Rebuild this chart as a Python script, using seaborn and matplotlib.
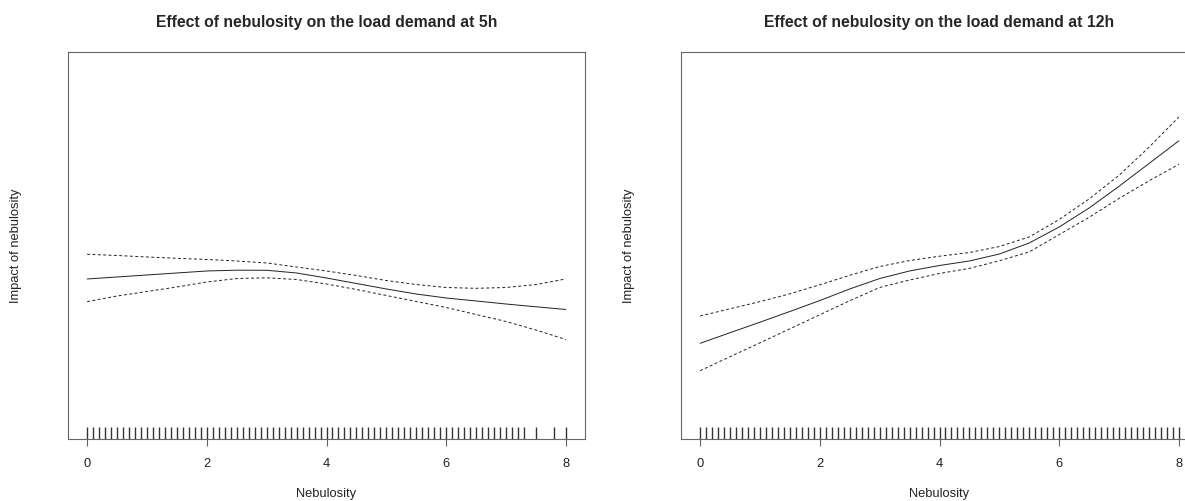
import numpy as np
import pandas as pd
import matplotlib
matplotlib.use("Agg")
import matplotlib.pyplot as plt
import seaborn as sns

# smooth effect of nebulosity (arbitrary centred units)
nebulosity = [0.0, 0.5, 1.0, 1.5, 2.0, 2.5, 3.0, 3.5, 4.0,
              4.5, 5.0, 5.5, 6.0, 6.5, 7.0, 7.5, 8.0]

fit_5h = [-0.519, -0.488, -0.457, -0.426, -0.395, -0.383, -0.384, -0.426, -0.504,
          -0.589, -0.674, -0.752, -0.814, -0.860, -0.907, -0.950, -0.992]
upper_5h = [-0.136, -0.155, -0.178, -0.198, -0.217, -0.240, -0.271, -0.333, -0.395,
            -0.465, -0.543, -0.605, -0.651, -0.664, -0.651, -0.605, -0.519]
lower_5h = [-0.871, -0.783, -0.713, -0.643, -0.566, -0.512, -0.501, -0.527, -0.597,
            -0.682, -0.775, -0.868, -0.961, -1.070, -1.178, -1.310, -1.457]

fit_12h = [-1.516, -1.352, -1.189, -1.023, -0.853, -0.674, -0.512, -0.395, -0.310,
           -0.240, -0.132, 0.039, 0.287, 0.581, 0.918, 1.270, 1.623]
upper_12h = [-1.093, -0.981, -0.870, -0.749, -0.609, -0.462, -0.326, -0.233, -0.166,
             -0.109, -0.016, 0.133, 0.403, 0.721, 1.088, 1.522, 1.992]
lower_12h = [-1.941, -1.724, -1.509, -1.291, -1.074, -0.856, -0.651, -0.535, -0.433,
             -0.355, -0.237, -0.099, 0.169, 0.437, 0.729, 1.002, 1.259]

# observed nebulosity values (rug)
rug_5h = [0.0, 0.1, 0.2, 0.3, 0.4, 0.5, 0.6, 0.7, 0.8, 0.9,
          1.0, 1.1, 1.2, 1.3, 1.4, 1.5, 1.6, 1.7, 1.8, 1.9,
          2.0, 2.1, 2.2, 2.3, 2.4, 2.5, 2.6, 2.7, 2.8, 2.9,
          3.0, 3.1, 3.2, 3.3, 3.4, 3.5, 3.6, 3.7, 3.8, 3.9,
          4.0, 4.1, 4.2, 4.3, 4.4, 4.5, 4.6, 4.7, 4.8, 4.9,
          5.0, 5.1, 5.2, 5.3, 5.4, 5.5, 5.6, 5.7, 5.8, 5.9,
          6.0, 6.1, 6.2, 6.3, 6.4, 6.5, 6.6, 6.7, 6.8, 6.9,
          7.0, 7.1, 7.2, 7.3, 7.5, 7.8, 8.0]
rug_12h = [0.0, 0.1, 0.2, 0.3, 0.4, 0.5, 0.6, 0.7, 0.8, 0.9,
           1.0, 1.1, 1.2, 1.3, 1.4, 1.5, 1.6, 1.7, 1.8, 1.9,
           2.0, 2.1, 2.2, 2.3, 2.4, 2.5, 2.6, 2.7, 2.8, 2.9,
           3.0, 3.1, 3.2, 3.3, 3.4, 3.5, 3.6, 3.7, 3.8, 3.9,
           4.0, 4.1, 4.2, 4.3, 4.4, 4.5, 4.6, 4.7, 4.8, 4.9,
           5.0, 5.1, 5.2, 5.3, 5.4, 5.5, 5.6, 5.7, 5.8, 5.9,
           6.0, 6.1, 6.2, 6.3, 6.4, 6.5, 6.6, 6.7, 6.8, 6.9,
           7.0, 7.1, 7.2, 7.3, 7.4, 7.5, 7.6, 7.7, 7.8, 7.9, 8.0]

x_ticks = [0, 2, 4, 6, 8]

sns.set_style("white")
plt.rcParams["font.family"] = ["Liberation Sans", "DejaVu Sans"]

BOX_COLOR = "#666666"
LABEL_SIZE = 9.3


def draw_smooth(ax, fit, upper, lower, rug, title):
    df = pd.DataFrame(
        {"Nebulosity": nebulosity, "fit": fit, "upper": upper, "lower": lower}
    )
    sns.lineplot(data=df, x="Nebulosity", y="fit", ax=ax, color="#222222", lw=0.7)
    for col in ["upper", "lower"]:
        sns.lineplot(
            data=df, x="Nebulosity", y=col, ax=ax, color="#222222", lw=0.7,
            dashes=False, linestyle=(0, (3, 2.5)),
        )
    sns.rugplot(x=rug, ax=ax, height=0.03, color="#333333", lw=0.6,
                expand_margins=False)

    ax.set_xlim(-0.32, 8.32)
    ax.set_ylim(-3, 3)
    ax.set_xticks(x_ticks)
    ax.set_yticks([])
    ax.tick_params(axis="x", length=5, width=0.8, color=BOX_COLOR, pad=9,
                   labelsize=LABEL_SIZE, labelcolor="#222222", direction="out",
                   bottom=True)
    for spine in ax.spines.values():
        spine.set_visible(True)
        spine.set_color(BOX_COLOR)
        spine.set_linewidth(0.8)
    ax.set_xlabel("Nebulosity", fontsize=LABEL_SIZE, color="#222222", labelpad=13)
    ax.set_ylabel("Impact of nebulosity", fontsize=LABEL_SIZE, color="#222222",
                  labelpad=33)
    ax.set_title(title, fontsize=11.3, fontweight="bold", pad=18)


fig = plt.figure(figsize=(11.85, 5.01), dpi=100)
ax_left = fig.add_axes([68 / 1185, 62 / 501, 517 / 1185, 387 / 501])
ax_right = fig.add_axes([681 / 1185, 62 / 501, 517 / 1185, 387 / 501])

draw_smooth(ax_left, fit_5h, upper_5h, lower_5h, rug_5h,
            "Effect of nebulosity on the load demand at 5h")
draw_smooth(ax_right, fit_12h, upper_12h, lower_12h, rug_12h,
            "Effect of nebulosity on the load demand at 12h")

fig.savefig("out.png", dpi=100)
